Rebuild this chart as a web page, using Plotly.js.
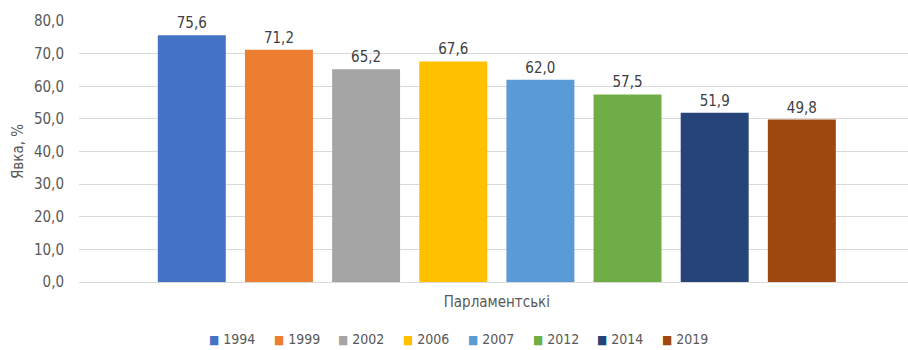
<!DOCTYPE html>
<html>
<head>
<meta charset="utf-8">
<script src="https://cdn.plot.ly/plotly-3.0.1.min.js"></script>
<style>html,body{margin:0;padding:0;background:#fff;}#chart{width:908px;height:350px;}</style>
</head>
<body>
<div id="chart"></div>
<script>
var category = ['Парламентські'];
var years = ['1994', '1999', '2002', '2006', '2007', '2012', '2014', '2019'];
var turnout = [75.6, 71.2, 65.2, 67.6, 62.0, 57.5, 51.9, 49.8];
var colors = ['#4472C4', '#ED7D31', '#A5A5A5', '#FFC000', '#5B9BD5', '#70AD47', '#264478', '#9E480E'];
var yTicks = [0, 10, 20, 30, 40, 50, 60, 70, 80];

var FONT = '"Liberation Sans Narrow", "DejaVu Sans Condensed", "Liberation Sans", Arial, sans-serif';

var traces = years.map(function (yr, i) {
  return {
    type: 'bar',
    name: yr,
    x: category,
    y: [turnout[i]],
    marker: {color: colors[i]},
    texttemplate: '%{y:.1f}',
    textposition: 'outside',
    cliponaxis: false,
    textfont: {family: FONT, size: 15, color: '#404040'},
    hoverinfo: 'skip',
    showlegend: false
  };
});

// Legend entries (coloured square + year), laid out as in the original
var plotLeft = 79, plotWidth = 829, plotBottom = 282, plotHeight = 261;
var legendStart = 208, legendPitch = 64.7, legendMid = 339;
var legendItems = years.map(function (yr, i) {
  return {
    xref: 'paper', yref: 'paper',
    x: (legendStart + i * legendPitch - plotLeft) / plotWidth,
    y: -(legendMid - plotBottom) / plotHeight,
    xanchor: 'left', yanchor: 'middle',
    showarrow: false,
    borderpad: 0,
    text: '<span style="color:' + colors[i] + ';font-size:12px">■</span> ' + yr,
    font: {family: FONT, size: 14, color: '#595959'}
  };
});

var layout = {
  width: 908,
  height: 350,
  margin: {l: 79, r: 0, t: 21, b: 68, autoexpand: false},
  paper_bgcolor: '#ffffff',
  plot_bgcolor: '#ffffff',
  separators: ', ',
  font: {family: FONT, size: 15, color: '#595959'},
  barmode: 'group',
  bargap: 0.159,
  bargroupgap: 0.22,
  showlegend: false,
  annotations: legendItems,
  xaxis: {
    type: 'category',
    range: [-0.504, 0.496],
    showgrid: false,
    showline: true,
    linecolor: '#d9d9d9',
    linewidth: 1,
    ticks: '',
    tickfont: {family: FONT, size: 15, color: '#595959'},
    ticklabelstandoff: 6
  },
  yaxis: {
    range: [0, 80],
    tickvals: yTicks,
    tickformat: '.1f',
    showgrid: true,
    gridcolor: '#d9d9d9',
    gridwidth: 1,
    zeroline: false,
    showline: false,
    ticks: '',
    ticklabelstandoff: 14,
    tickfont: {family: FONT, size: 15, color: '#595959'},
    title: {text: 'Явка, %', font: {family: FONT, size: 15, color: '#595959'}, standoff: 6}
  }
};

Plotly.newPlot('chart', traces, layout, {displayModeBar: false, staticPlot: true});
</script>
</body>
</html>
